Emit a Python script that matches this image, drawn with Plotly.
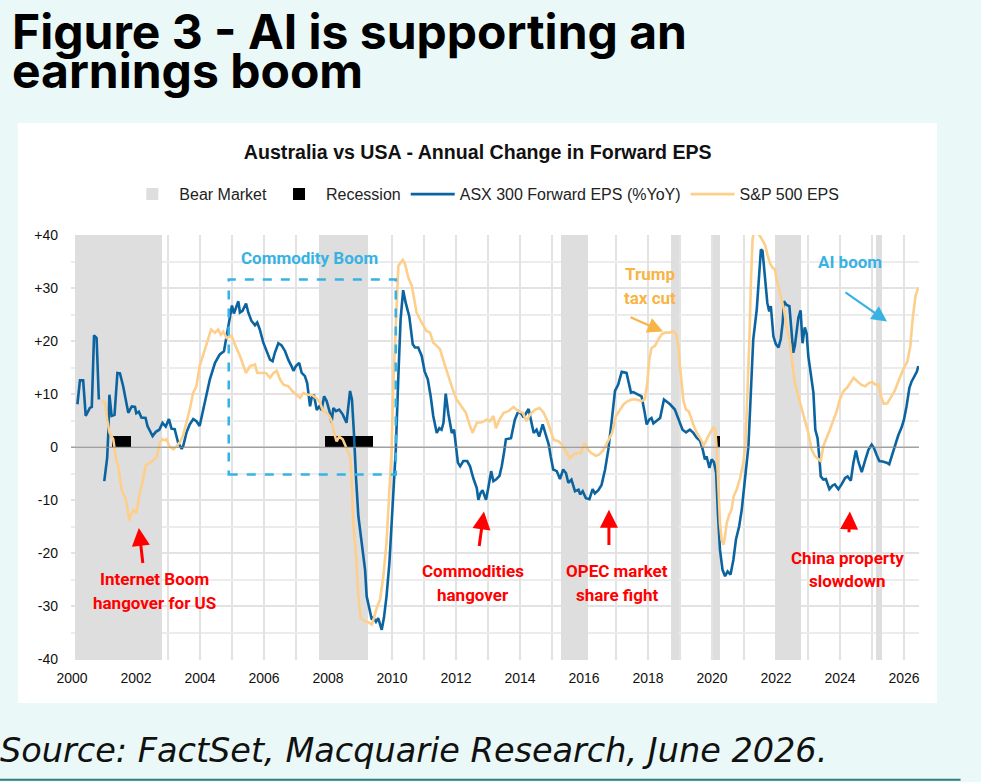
import plotly.graph_objects as go


# ASX 300 forward EPS, % yoy (None = gap in the series)
asx_year = [2000.17, 2000.25, 2000.35, 2000.43, 2000.56, 2000.62, 2000.69, 2000.77, 2000.84, None,
            2001.01, 2001.10, 2001.14, 2001.17, 2001.24, 2001.33, 2001.42, 2001.50, 2001.60, 2001.76,
            2001.87, 2001.97, 2002.01, 2002.09, 2002.17, 2002.30, 2002.36, 2002.52, 2002.62, 2002.73,
            2002.83, 2002.93, 2003.03, 2003.11, 2003.21, 2003.32, 2003.43, 2003.48, 2003.58, 2003.68,
            2003.79, 2003.89, 2003.99, 2004.08, 2004.20, 2004.31, 2004.47, 2004.62, 2004.75, 2004.85,
            2004.94, 2005.00, 2005.06, 2005.13, 2005.20, 2005.25, 2005.33, 2005.44, 2005.51, 2005.61,
            2005.72, 2005.79, 2005.87, 2005.98, 2006.08, 2006.19, 2006.27, 2006.34, 2006.45, 2006.55,
            2006.66, 2006.76, 2006.86, 2006.92, 2007.00, 2007.10, 2007.18, 2007.28, 2007.35, 2007.44,
            2007.49, 2007.56, 2007.65, 2007.73, 2007.80, 2007.88, 2007.96, 2008.06, 2008.11, 2008.17,
            2008.25, 2008.35, 2008.46, 2008.58, 2008.69, 2008.75, 2008.81, 2008.84, 2008.88, 2008.95,
            2009.05, 2009.16, 2009.21, 2009.31, 2009.37, 2009.42, 2009.50, 2009.57, 2009.68, 2009.75,
            2009.83, 2009.92, 2009.99, 2010.04, 2010.12, 2010.20, 2010.27, 2010.35, 2010.43, 2010.54,
            2010.65, 2010.72, 2010.82, 2010.93, 2011.02, 2011.12, 2011.21, 2011.29, 2011.40, 2011.48,
            2011.55, 2011.61, 2011.68, 2011.76, 2011.87, 2011.94, 2012.02, 2012.06, 2012.13, 2012.23,
            2012.35, 2012.44, 2012.54, 2012.65, 2012.70, 2012.77, 2012.83, 2012.94, 2013.01, 2013.10,
            2013.17, 2013.25, 2013.36, 2013.43, 2013.50, 2013.56, 2013.64, 2013.72, 2013.84, 2013.95,
            2014.06, 2014.11, 2014.20, 2014.27, 2014.34, 2014.43, 2014.52, 2014.60, 2014.71, 2014.80,
            2014.90, 2014.96, 2015.04, 2015.15, 2015.25, 2015.35, 2015.44, 2015.51, 2015.61, 2015.72,
            2015.83, 2015.88, 2015.96, 2016.06, 2016.17, 2016.27, 2016.34, 2016.45, 2016.55, 2016.66,
            2016.76, 2016.86, 2016.97, 2017.07, 2017.18, 2017.33, 2017.47, 2017.54, 2017.70, 2017.80,
            2017.89, 2017.96, 2018.04, 2018.11, 2018.17, 2018.27, 2018.38, 2018.50, 2018.60, 2018.69,
            2018.84, 2018.92, 2019.00, 2019.08, 2019.19, 2019.31, 2019.42, 2019.52, 2019.63, 2019.71,
            2019.78, 2019.83, 2019.92, 2019.99, 2020.06, 2020.13, 2020.19, 2020.25, 2020.33, 2020.41,
            2020.49, 2020.58, 2020.67, 2020.75, 2020.85, 2020.93, 2021.03, 2021.14, 2021.21, 2021.29,
            2021.40, 2021.47, 2021.53, 2021.58, 2021.66, 2021.73, 2021.79, 2021.84, 2021.92, 2022.00,
            2022.08, 2022.15, 2022.21, 2022.25, 2022.33, 2022.42, 2022.49, 2022.54, 2022.59, 2022.70,
            2022.77, 2022.83, 2022.90, 2022.96, 2023.01, 2023.09, 2023.17, 2023.23, 2023.30, 2023.36,
            2023.40, 2023.48, 2023.56, 2023.67, 2023.77, 2023.84, 2023.95, 2024.05, 2024.16, 2024.24,
            2024.34, 2024.42, 2024.50, 2024.57, 2024.68, 2024.78, 2024.89, 2024.99, 2025.06, 2025.15,
            2025.23, 2025.33, 2025.46, 2025.54, 2025.65, 2025.72, 2025.82, 2025.93, 2026.00, 2026.08,
            2026.17, 2026.24, 2026.32, 2026.40, 2026.45]
asx_eps = [8.1, 12.6, 12.6, 5.9, 7.4, 7.6, 21.1, 20.6, 9.0, None,
           -6.4, -2.0, 3.3, 9.9, 5.9, 6.1, 14.0, 13.9, 11.5, 6.5,
           7.7, 7.6, 6.4, 6.7, 5.6, 5.5, 4.0, 2.1, 2.9, 3.3,
           4.6, 3.9, 5.3, 3.5, 3.4, 0.8, -0.3, 0.3, 2.8, 4.3,
           5.3, 4.9, 4.0, 6.5, 9.9, 12.8, 15.9, 17.5, 18.1, 21.3,
           24.7, 26.7, 25.2, 26.5, 27.5, 25.4, 25.7, 27.1, 25.4, 23.8,
           23.0, 23.5, 22.2, 19.7, 18.1, 16.5, 16.2, 17.8, 19.6, 19.2,
           18.1, 16.5, 15.3, 14.4, 15.3, 15.9, 14.0, 13.4, 12.1, 7.7,
           9.3, 9.9, 7.0, 7.7, 7.0, 9.6, 8.7, 6.5, 4.6, 7.4,
           6.8, 7.1, 6.2, 4.6, 10.6, 9.0, 2.8, -2.2, -6.1, -13.0,
           -17.4, -23.1, -28.1, -30.9, -32.5, -32.1, -32.9, -32.2, -34.4, -32.1,
           -28.1, -21.8, -14.9, -8.0, -0.4, 13.4, 24.1, 29.6, 27.2, 24.7,
           19.4, 18.8, 18.8, 17.2, 14.3, 12.8, 9.6, 5.9, 2.7, 3.6,
           3.3, 4.6, 10.1, 6.4, 2.7, 3.3, -1.1, -2.9, -3.6, -2.6,
           -2.6, -3.6, -5.8, -7.7, -9.9, -8.6, -8.1, -9.9, -7.7, -4.5,
           -6.4, -6.1, -5.4, -3.6, -1.1, 1.5, 1.6, 1.7, 5.2, 6.8,
           6.2, 5.6, 6.5, 7.2, 5.2, 2.7, 3.3, 2.0, 4.3, 2.7,
           0.5, -1.7, -4.2, -4.5, -6.0, -4.2, -4.9, -6.7, -6.1, -8.3,
           -8.0, -8.9, -8.3, -9.6, -9.8, -7.9, -8.7, -8.1, -7.1, -4.2,
           -0.5, 4.6, 10.6, 11.8, 14.2, 14.0, 10.3, 10.4, 9.9, 9.6,
           6.8, 4.3, 5.2, 5.5, 4.5, 4.9, 5.5, 9.0, 8.5, 8.1,
           7.1, 5.9, 4.7, 3.3, 2.8, 3.3, 2.7, 1.8, 1.2, -0.4,
           -2.3, -1.7, -3.9, -2.3, -2.8, -4.8, -13.0, -19.3, -23.1, -24.3,
           -23.4, -24.0, -21.2, -17.4, -14.9, -11.8, -6.1, 0.2, 9.6, 20.3,
           26.0, 32.3, 37.3, 37.0, 31.6, 27.2, 25.6, 26.6, 20.9, 19.4,
           18.8, 20.4, 23.5, 27.5, 26.8, 26.6, 21.6, 17.8, 19.1, 24.4,
           25.8, 19.6, 22.6, 21.4, 17.2, 13.4, 10.3, 3.3, 1.7, -2.3,
           -5.5, -6.1, -6.0, -7.9, -7.2, -7.0, -7.9, -7.0, -5.8, -5.5,
           -6.3, -2.9, -0.6, -2.6, -4.7, -2.6, -0.5, 0.5, -0.1, -1.5,
           -2.6, -2.7, -2.9, -3.2, -1.1, 0.5, 2.2, 3.8, 5.2, 7.7,
           11.2, 12.4, 13.4, 14.2, 15.3]

# S&P 500 EPS, % yoy
spx_year = [2000.93, 2001.03, 2001.10, 2001.17, 2001.29, 2001.38, 2001.45, 2001.55, 2001.69, 2001.73,
            2001.79, 2001.86, 2001.94, 2002.01, 2002.10, 2002.20, 2002.31, 2002.44, 2002.54, 2002.65,
            2002.74, 2002.83, 2002.91, 2002.96, 2003.04, 2003.17, 2003.27, 2003.38, 2003.48, 2003.58,
            2003.68, 2003.79, 2003.89, 2003.99, 2004.11, 2004.25, 2004.35, 2004.47, 2004.57, 2004.65,
            2004.73, 2004.83, 2004.99, 2005.09, 2005.25, 2005.36, 2005.44, 2005.57, 2005.72, 2005.79,
            2005.93, 2006.06, 2006.19, 2006.30, 2006.40, 2006.50, 2006.61, 2006.76, 2006.90, 2007.02,
            2007.13, 2007.23, 2007.36, 2007.49, 2007.63, 2007.75, 2007.85, 2007.96, 2008.04, 2008.11,
            2008.19, 2008.27, 2008.35, 2008.46, 2008.56, 2008.64, 2008.69, 2008.74, 2008.79, 2008.88,
            2008.95, 2009.02, 2009.16, 2009.30, 2009.37, 2009.44, 2009.54, 2009.63, 2009.73, 2009.83,
            2009.92, 2009.99, 2010.04, 2010.12, 2010.20, 2010.25, 2010.34, 2010.41, 2010.51, 2010.62,
            2010.77, 2010.93, 2011.08, 2011.19, 2011.29, 2011.40, 2011.50, 2011.63, 2011.76, 2011.90,
            2012.02, 2012.18, 2012.31, 2012.42, 2012.52, 2012.65, 2012.81, 2012.96, 2013.06, 2013.17,
            2013.25, 2013.36, 2013.49, 2013.64, 2013.80, 2013.95, 2014.09, 2014.20, 2014.32, 2014.48,
            2014.61, 2014.74, 2014.84, 2014.95, 2015.05, 2015.21, 2015.35, 2015.46, 2015.56, 2015.67,
            2015.79, 2015.90, 2015.95, 2016.02, 2016.13, 2016.23, 2016.37, 2016.47, 2016.61, 2016.74,
            2016.88, 2017.00, 2017.11, 2017.24, 2017.37, 2017.50, 2017.64, 2017.80, 2017.90, 2017.98,
            2018.04, 2018.11, 2018.22, 2018.32, 2018.43, 2018.53, 2018.66, 2018.80, 2018.88, 2018.95,
            2019.00, 2019.06, 2019.11, 2019.19, 2019.27, 2019.35, 2019.43, 2019.53, 2019.60, 2019.69,
            2019.73, 2019.83, 2019.94, 2020.04, 2020.10, 2020.15, 2020.20, 2020.25, 2020.30, 2020.36,
            2020.41, 2020.46, 2020.54, 2020.61, 2020.68, 2020.77, 2020.88, 2020.98, 2021.05, 2021.11,
            2021.17, 2021.22, 2021.27, 2021.32, 2021.40, 2021.50, 2021.58, 2021.66, 2021.73, 2021.81,
            2021.90, 2021.97, 2022.02, 2022.10, 2022.18, 2022.25, 2022.33, 2022.44, 2022.52, 2022.59,
            2022.70, 2022.80, 2022.91, 2023.01, 2023.11, 2023.22, 2023.32, 2023.40, 2023.48, 2023.59,
            2023.69, 2023.80, 2023.90, 2024.01, 2024.11, 2024.22, 2024.32, 2024.43, 2024.53, 2024.66,
            2024.79, 2024.90, 2025.00, 2025.11, 2025.21, 2025.28, 2025.37, 2025.48, 2025.58, 2025.71,
            2025.85, 2025.98, 2026.11, 2026.20, 2026.27, 2026.36, 2026.43, 2026.48]
spx_eps = [8.7, 8.4, 5.2, 2.8, 1.5, -2.3, -3.6, -8.0, -9.9, -11.8,
           -13.8, -12.5, -11.7, -12.5, -9.2, -6.7, -3.3, -3.0, -2.4, -1.8,
           0.8, 1.5, 1.3, 1.5, 0.2, -0.4, 0.2, 1.0, 2.4, 4.6,
           7.1, 10.3, 11.5, 15.3, 17.5, 20.3, 22.2, 21.6, 22.2, 21.2,
           21.8, 20.6, 21.0, 19.4, 17.2, 15.3, 14.0, 15.3, 15.6, 14.0,
           14.0, 14.0, 13.1, 14.0, 14.4, 12.8, 11.8, 11.5, 10.5, 9.9,
           9.3, 10.2, 9.9, 9.9, 9.3, 8.4, 6.8, 6.5, 5.9, 5.0,
           2.7, 1.1, 2.0, 1.5, 0.2, -1.1, -1.7, -6.1, -14.3, -20.6,
           -28.1, -32.2, -32.8, -33.1, -33.4, -32.1, -30.0, -28.7, -24.3, -18.0,
           -9.2, -0.4, 11.5, 24.1, 34.2, 34.6, 35.3, 34.5, 32.0, 30.4,
           25.4, 23.5, 21.9, 21.6, 19.7, 19.1, 18.5, 15.9, 13.4, 10.9,
           9.0, 7.7, 6.5, 4.3, 2.7, 4.6, 4.7, 5.2, 4.9, 5.9,
           3.6, 5.2, 6.5, 6.8, 7.6, 6.8, 6.5, 4.9, 6.2, 7.1,
           7.4, 6.5, 5.2, 3.3, 1.4, 1.1, 0.2, -1.1, -2.1, -1.4,
           -1.1, -1.1, -0.2, 0.8, -0.5, -1.1, -1.6, -1.4, -0.5, 1.1,
           2.7, 5.9, 6.8, 8.1, 8.7, 9.0, 9.0, 8.7, 9.0, 12.1,
           16.5, 18.7, 19.1, 20.3, 21.3, 21.6, 21.6, 21.9, 21.3, 19.1,
           15.3, 11.5, 8.7, 7.1, 6.8, 5.5, 4.0, 2.7, 2.0, 1.1,
           0.2, 1.5, 2.7, 3.7, 3.4, -0.4, -8.0, -14.3, -17.4, -18.4,
           -16.7, -14.3, -12.7, -11.8, -9.2, -8.0, -5.8, -2.9, 0.8, 9.6,
           20.3, 31.6, 39.2, 41.0, 40.5, 39.8, 39.0, 38.1, 36.4, 34.7,
           33.8, 33.5, 31.6, 29.8, 27.5, 26.0, 22.8, 19.4, 15.3, 12.1,
           9.6, 7.4, 5.2, 2.7, -0.4, -1.7, -2.2, -2.6, 0.2, 2.1,
           3.4, 5.2, 6.8, 9.3, 10.6, 11.2, 12.1, 13.1, 12.5, 11.8,
           11.5, 12.1, 12.3, 11.8, 11.8, 9.6, 8.2, 8.3, 9.3, 10.6,
           12.8, 14.7, 16.2, 19.1, 24.1, 28.5, 29.8, 30.0]

# shaded periods (decimal years)
bear_start = [2000.10, 2007.72, 2015.28, 2018.72, 2020.03, 2021.96, 2025.12]
bear_end = [2002.81, 2009.24, 2016.13, 2018.97, 2020.24, 2022.79, 2025.32]
recession_start = [2001.24, 2007.92, 2020.12]
recession_end = [2001.83, 2009.42, 2020.25]

y_ticks = [40, 30, 20, 10, 0, -10, -20, -30, -40]
y_tick_text = ["+40", "+30", "+20", "+10", "0", "-10", "-20", "-30", "-40"]
x_ticks = list(range(2000, 2027, 2))

Y_MIN, Y_MAX = -40.1, 40.0
RECESSION_BAR = 2.2

BG = "#eaf8f8"
BLUE = "#0b64a0"
ORANGE = "#fdcf8a"
SKY = "#38b2e3"
RED = "#ff0000"
GOLD = "#f8b447"
PLAIN = "Liberation Sans, Arial, sans-serif"
BOLD = "Roboto, Arial, sans-serif"
HEAD = "Inter, Open Sans, sans-serif"

fig = go.Figure()

fig.add_trace(go.Bar(
    x=[(s + e) / 2 for s, e in zip(bear_start, bear_end)],
    width=[e - s for s, e in zip(bear_start, bear_end)],
    y=[Y_MAX - Y_MIN] * len(bear_start), base=Y_MIN,
    marker=dict(color="#dedede", line=dict(width=0)),
    name="Bear Market", hoverinfo="skip",
))
fig.add_trace(go.Bar(
    x=[(s + e) / 2 for s, e in zip(recession_start, recession_end)],
    width=[e - s for s, e in zip(recession_start, recession_end)],
    y=[RECESSION_BAR] * len(recession_start), base=0,
    marker=dict(color="#000000", line=dict(width=0)),
    name="Recession", hoverinfo="skip",
))
fig.add_trace(go.Scatter(
    x=asx_year, y=asx_eps, mode="lines", connectgaps=False,
    line=dict(color=BLUE, width=2.6), name="ASX 300 Forward EPS (%YoY)",
))
fig.add_trace(go.Scatter(
    x=spx_year, y=spx_eps, mode="lines",
    line=dict(color=ORANGE, width=2.6), name="S&P 500 EPS",
))

# page furniture: white card, bottom rule, zero line, commodity box
fig.add_shape(type="rect", xref="paper", yref="paper", x0=-0.0625, x1=1.0212, y0=-0.1012, y1=1.2635,
              fillcolor="white", line=dict(width=0), layer="below")
fig.add_shape(type="line", xref="paper", yref="paper", x0=-0.09, x1=1.049, y0=-0.282, y1=-0.282,
              line=dict(color="#2c7d7d", width=2))
fig.add_shape(type="line", xref="paper", yref="y", x0=0, x1=1, y0=0, y1=0,
              line=dict(color="#8c8c8c", width=1.2), layer="above")
fig.add_shape(type="rect", xref="x", yref="y", x0=2004.9, x1=2010.12, y0=-5.15, y1=31.6,
              line=dict(color=SKY, width=2.6, dash="dash"), fillcolor="rgba(0,0,0,0)")

annotations = []

# headline and source
annotations.append(dict(text="<b>Figure 3 - AI is supporting an</b>", xref="paper", yref="paper",
                        x=-0.0725, y=1.4785, xanchor="left", yanchor="middle", showarrow=False,
                        font=dict(family=HEAD, size=48, color="#000")))
annotations.append(dict(text="<b>earnings boom</b>", xref="paper", yref="paper",
                        x=-0.0725, y=1.387, xanchor="left", yanchor="middle", showarrow=False,
                        font=dict(family=HEAD, size=48, color="#000")))
annotations.append(dict(text="<i>Source: FactSet, Macquarie Research, June 2026.</i>", xref="paper", yref="paper",
                        x=-0.086, y=-0.214, xanchor="left", yanchor="middle", showarrow=False,
                        font=dict(family="DejaVu Sans, sans-serif", size=33.5, color="#111")))


def label(lines, x, y, color, gap=4.5, size=17):
    for i, t in enumerate(lines):
        annotations.append(dict(text="<b>%s</b>" % t, x=x, y=y - i * gap, xref="x", yref="y",
                                showarrow=False, xanchor="center", yanchor="middle",
                                font=dict(family=BOLD, size=size, color=color)))


def arrow(x, y, ax, ay, color, width, size=1.2):
    annotations.append(dict(text="", x=x, y=y, ax=ax, ay=ay, xref="x", yref="y", axref="x", ayref="y",
                            showarrow=True, arrowhead=2, arrowsize=size, arrowwidth=width, arrowcolor=color))


label(["Commodity Boom"], 2007.41, 35.6, SKY)
label(["Internet Boom", "hangover for US"], 2002.59, -24.8, RED)
label(["Commodities", "hangover"], 2012.53, -23.3, RED)
label(["OPEC market", "share fight"], 2017.03, -23.3, RED)
label(["China property", "slowdown"], 2024.22, -20.8, RED)
label(["Trump", "tax cut"], 2018.06, 32.6, GOLD)
label(["AI boom"], 2024.31, 35.0, SKY)

arrow(2002.09, -15.2, 2002.22, -22.1, RED, 3)
arrow(2012.875, -12.1, 2012.72, -18.9, RED, 3)
arrow(2016.78, -11.8, 2016.78, -18.7, RED, 3)
arrow(2024.31, -12.1, 2024.28, -16.3, RED, 3)
arrow(2018.47, 21.8, 2017.41, 24.6, GOLD, 2.2, 1.4)
arrow(2025.47, 23.7, 2024.125, 29.4, SKY, 2.2, 1.4)

fig.update_layout(
    width=981, height=782,
    margin=dict(l=71, r=62, t=235, b=122),
    paper_bgcolor=BG, plot_bgcolor="white",
    barmode="overlay", bargap=0,
    title=dict(text="<b>Australia vs USA - Annual Change in Forward EPS</b>", x=0.487, y=0.806,
               xanchor="center", yanchor="middle",
               font=dict(family=PLAIN, size=19.6, color="#111")),
    legend=dict(orientation="h", x=0.488, y=1.096, xanchor="center", yanchor="middle",
                font=dict(family=PLAIN, size=16, color="#222"), bgcolor="rgba(0,0,0,0)",
                itemwidth=44, traceorder="normal"),
    annotations=annotations,
    showlegend=True,
)

fig.update_xaxes(
    range=[1999.97, 2026.47], tickvals=x_ticks, ticktext=[str(v) for v in x_ticks],
    showgrid=True, gridcolor="#e3e3e3", gridwidth=1.5,
    minor=dict(dtick=1, tick0=2000, showgrid=True, gridcolor="#e3e3e3", gridwidth=1.5),
    zeroline=False, showline=False, ticks="", ticklabelstandoff=8,
    tickfont=dict(family=PLAIN, size=14, color="#111"),
)
fig.update_yaxes(
    range=[Y_MIN, Y_MAX], tickvals=y_ticks, ticktext=y_tick_text,
    showgrid=True, gridcolor="#e3e3e3", gridwidth=1.5,
    minor=dict(dtick=5, tick0=0, showgrid=True, gridcolor="#ececec", gridwidth=1.5),
    zeroline=False, showline=False, ticks="", ticklabelstandoff=12,
    tickfont=dict(family=PLAIN, size=14, color="#111"),
)

fig.write_html("out.html", config={"displayModeBar": False},
               post_script="document.body.style.margin='0';")
